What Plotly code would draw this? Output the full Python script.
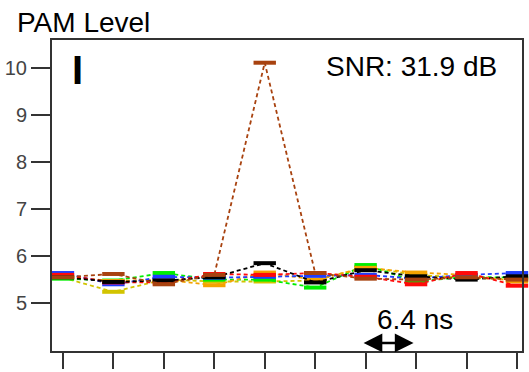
import plotly.graph_objects as go

# Sample positions (one per bit period) and PAM levels per trace
positions = list(range(10))
y_ticks = [5, 6, 7, 8, 9, 10]

series_names = ["yellow", "green", "orange", "blue", "red", "black", "brown"]
series_colors = {
    "yellow": "#d2c400",
    "green": "#00ee00",
    "orange": "#f5a300",
    "blue": "#1f3dff",
    "red": "#ff0a0a",
    "black": "#000000",
    "brown": "#a8420f",
}
yellow = [5.54, 5.24, 5.50, 5.46, 5.46, 5.48, 5.77, 5.60, 5.54, 5.50]
green = [5.52, 5.48, 5.64, 5.50, 5.50, 5.33, 5.81, 5.46, 5.56, 5.54]
orange = [5.56, 5.47, 5.50, 5.38, 5.65, 5.50, 5.75, 5.65, 5.60, 5.46]
blue = [5.64, 5.40, 5.56, 5.54, 5.56, 5.58, 5.60, 5.52, 5.60, 5.64]
red = [5.60, 5.44, 5.44, 5.62, 5.60, 5.64, 5.56, 5.40, 5.64, 5.37]
black = [5.55, 5.45, 5.48, 5.55, 5.85, 5.44, 5.70, 5.57, 5.50, 5.57]
brown = [5.55, 5.62, 5.40, 5.60, 10.12, 5.64, 5.52, 5.50, 5.55, 5.50]
series_values = {
    "yellow": yellow, "green": green, "orange": orange, "blue": blue,
    "red": red, "black": black, "brown": brown,
}

snr_label = "SNR: 31.9 dB"
period_label = "6.4 ns"

fig = go.Figure()
for name in series_names:
    c = series_colors[name]
    fig.add_trace(go.Scatter(
        x=positions, y=series_values[name], mode="lines+markers", name=name,
        line=dict(color=c, width=1.8, dash="4px,3px"),
        marker=dict(symbol="line-ew", size=16, color=c,
                    line=dict(width=4, color=c)),
        cliponaxis=False,
    ))

axis_color = "#333333"
label_font = dict(family="Liberation Sans Narrow, Arial Narrow, Liberation Sans, Arial",
                  size=20, color="#444444")
main_font = dict(family="Liberation Sans, Arial", size=28, color="#000000")

fig.update_layout(
    width=529, height=372,
    margin=dict(l=52, r=5, t=40, b=14),
    paper_bgcolor="white", plot_bgcolor="white",
    showlegend=False,
    xaxis=dict(range=[-0.217, 9.10], tickvals=positions, showticklabels=False,
               ticks="outside", ticklen=16, tickwidth=2, tickcolor=axis_color,
               showline=True, linewidth=2, linecolor=axis_color, mirror=True,
               showgrid=False, zeroline=False),
    yaxis=dict(range=[3.979, 10.604], tickvals=y_ticks,
               ticks="outside", ticklen=19, tickwidth=2, tickcolor=axis_color,
               tickfont=label_font,
               showline=True, linewidth=2, linecolor=axis_color, mirror=True,
               showgrid=False, zeroline=False),
)

fig.add_annotation(text="PAM Level", xref="paper", yref="paper",
                   x=-0.078, y=1.055, xanchor="left", yanchor="middle",
                   showarrow=False, font=main_font)
fig.add_annotation(text=snr_label, xref="paper", yref="paper",
                   x=0.578, y=0.915, xanchor="left", yanchor="middle",
                   showarrow=False, font=main_font)
fig.add_annotation(text="<b>I</b>", xref="paper", yref="paper",
                   x=0.055, y=0.905, xanchor="center", yanchor="middle",
                   showarrow=False,
                   font=dict(family="Liberation Sans, Arial", size=40, color="#000000"))
fig.add_annotation(text=period_label, xref="x", yref="y",
                   x=6.98, y=4.66, xanchor="center", yanchor="middle",
                   showarrow=False, font=main_font)
# double-headed arrow spanning one bit period
fig.add_annotation(x=6.95, y=4.15, ax=5.93, ay=4.15, xref="x", yref="y",
                   axref="x", ayref="y", text="", showarrow=True,
                   arrowhead=2, arrowside="end+start", arrowsize=1.5,
                   arrowwidth=2.5, arrowcolor="#000000", standoff=0, startstandoff=0)

fig.write_html("out.html")
